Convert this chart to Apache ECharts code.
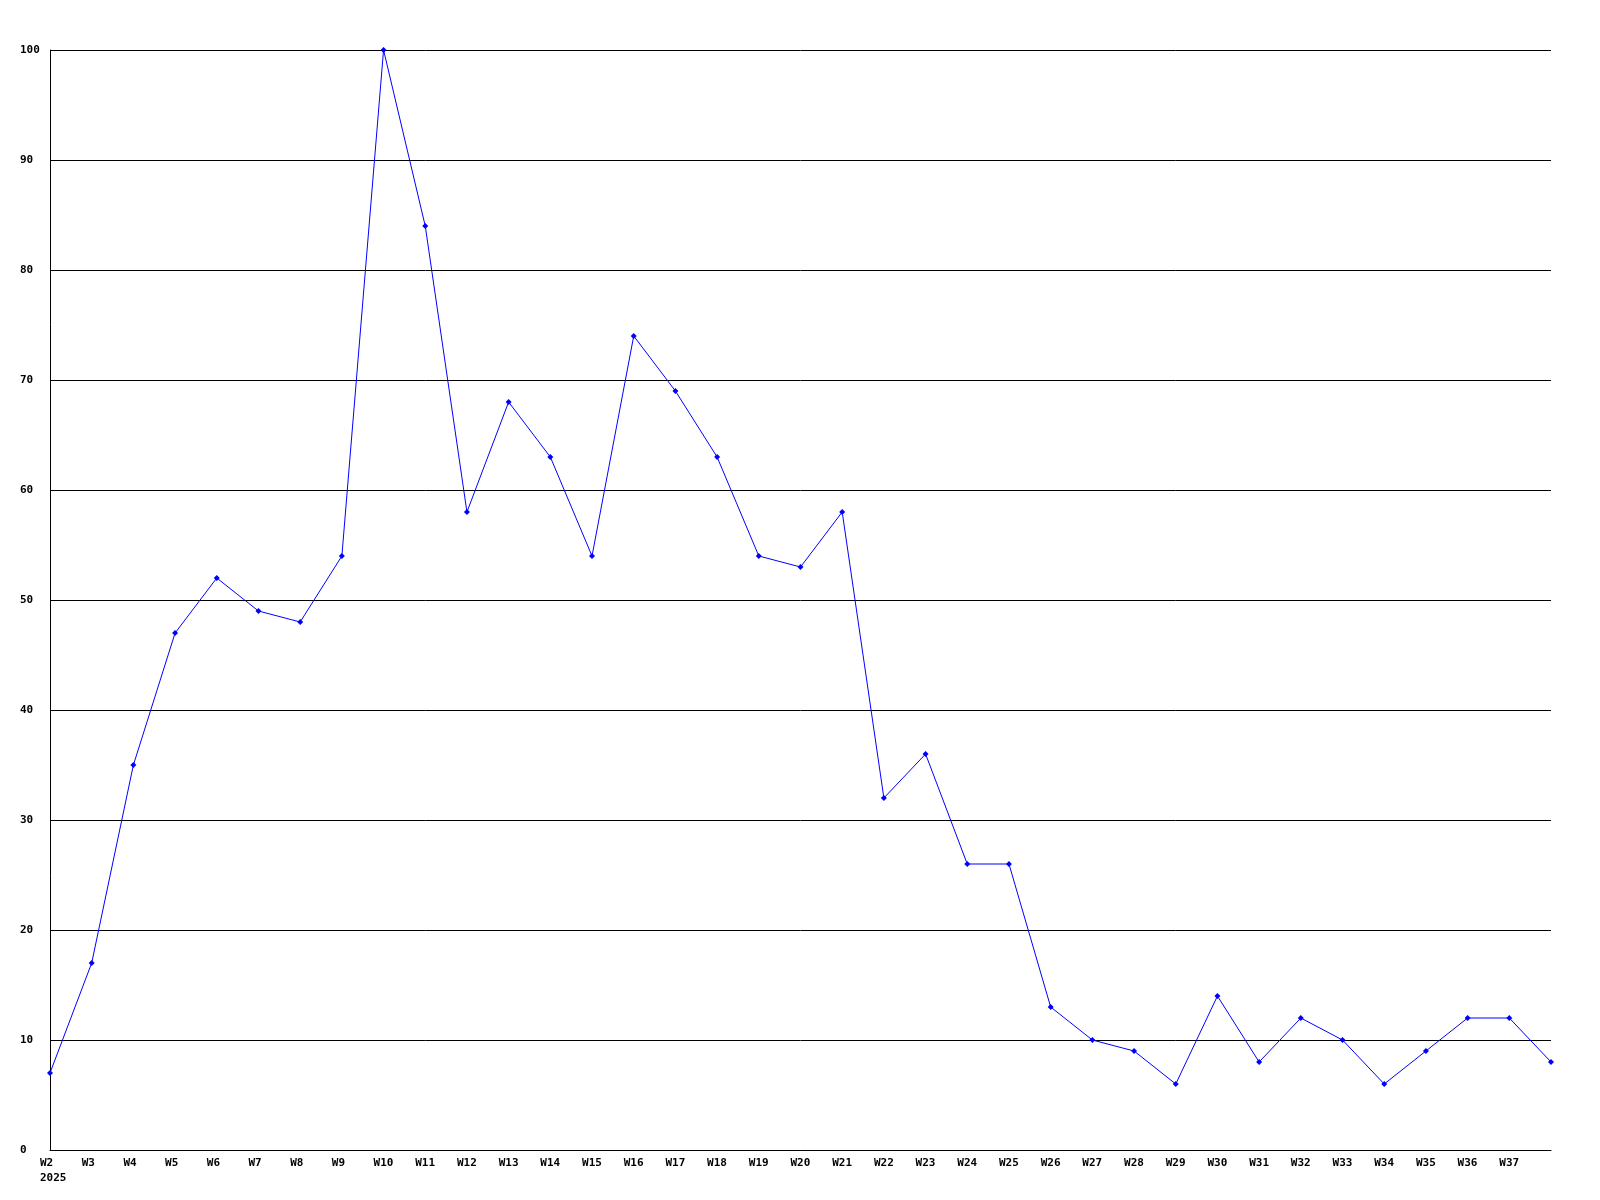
<!DOCTYPE html>
<html>
<head>
<meta charset="utf-8">
<script src="https://cdn.jsdelivr.net/npm/echarts@6/dist/echarts.min.js"></script>
<style>
  html, body { margin: 0; padding: 0; background: #fff; }
  #chart { width: 1600px; height: 1200px; }
</style>
</head>
<body>
<div id="chart"></div>
<script>
// weekly values, 2025
const weeks = ['W2', 'W3', 'W4', 'W5', 'W6', 'W7', 'W8', 'W9', 'W10', 'W11', 'W12', 'W13',
  'W14', 'W15', 'W16', 'W17', 'W18', 'W19', 'W20', 'W21', 'W22', 'W23', 'W24', 'W25',
  'W26', 'W27', 'W28', 'W29', 'W30', 'W31', 'W32', 'W33', 'W34', 'W35', 'W36', 'W37', 'W38'];
const counts = [7, 17, 35, 47, 52, 49, 48, 54, 100, 84, 58, 68,
  63, 54, 74, 69, 63, 54, 53, 58, 32, 36, 26, 26,
  13, 10, 9, 6, 14, 8, 12, 10, 6, 9, 12, 12, 8];
const yearLabel = '2025';

const chart = echarts.init(document.getElementById('chart'));
const font = { fontFamily: 'DejaVu Sans Mono', fontWeight: 'bold', fontSize: 11, color: '#000' };

const option = {
  animation: false,
  backgroundColor: '#fff',
  grid: { left: 50, right: 49, top: 50, bottom: 50 },
  xAxis: {
    type: 'category',
    data: weeks,
    boundaryGap: false,
    axisLine: { lineStyle: { color: '#000', width: 1 } },
    axisTick: { show: false },
    splitLine: { show: false },
    axisLabel: Object.assign({}, font, {
      interval: 0,
      margin: 6,
      formatter: function (v, i) {
        if (i === weeks.length - 1) return '';
        // labels start 10px left of the point
        return i === 0 ? '{a|' + v + '}\n{a|' + yearLabel + '}' : '{a|' + v + '}';
      },
      rich: {
        a: Object.assign({}, font, { width: 20, align: 'left', lineHeight: 15 })
      }
    })
  },
  yAxis: {
    type: 'value',
    min: 0,
    max: 100,
    interval: 10,
    axisLine: { show: true, lineStyle: { color: '#000', width: 1 } },
    axisTick: { show: false },
    splitLine: { lineStyle: { color: '#000', width: 1 } },
    axisLabel: Object.assign({}, font, { align: 'left', margin: 30 })
  },
  series: [{
    type: 'line',
    data: counts,
    symbol: 'diamond',
    symbolSize: 6,
    showAllSymbol: true,
    lineStyle: { color: '#0000ff', width: 1 },
    itemStyle: { color: '#0000ff' }
  }]
};

chart.setOption(option);
</script>
</body>
</html>
